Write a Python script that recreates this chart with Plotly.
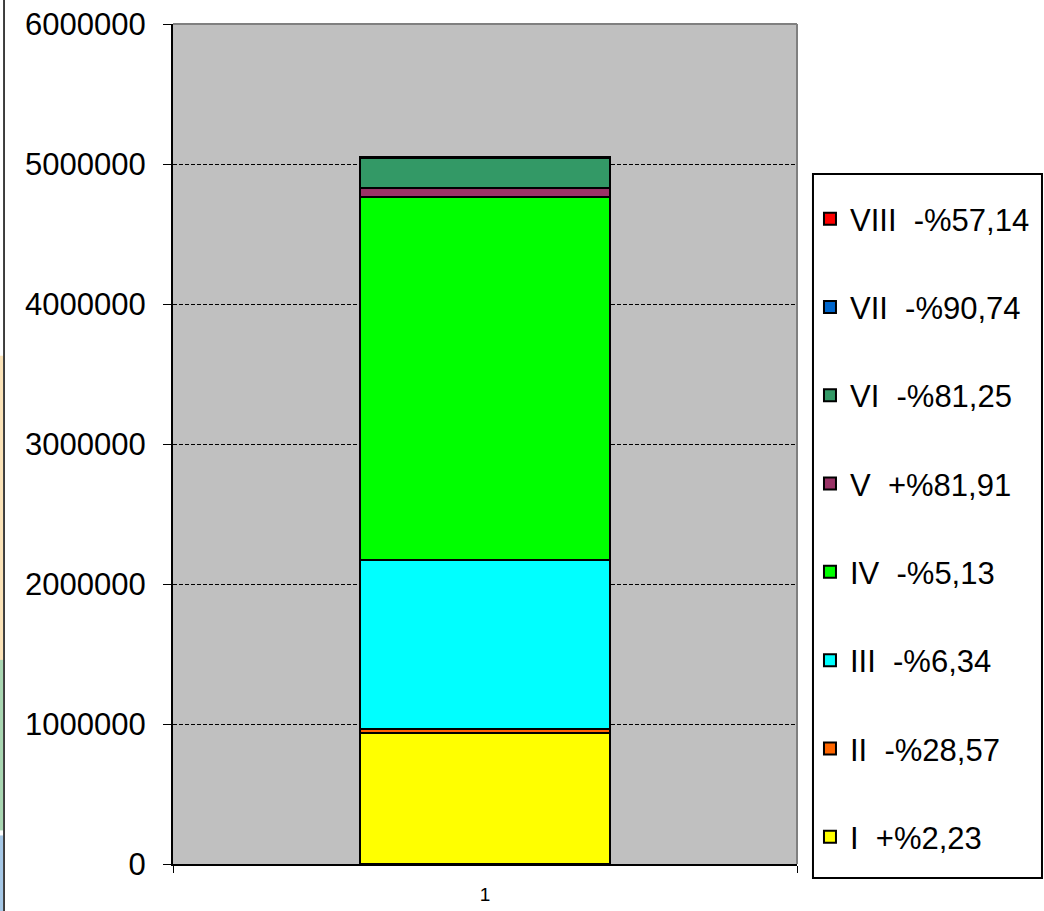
import plotly.graph_objects as go

categories = ["1"]
series_names = ["I", "II", "III", "IV", "V", "VI", "VII", "VIII"]
series_labels = ["I  +%2,23", "II  -%28,57", "III  -%6,34", "IV  -%5,13",
                 "V  +%81,91", "VI  -%81,25", "VII  -%90,74", "VIII  -%57,14"]
series_values = [935000, 30000, 1207000, 2594000, 64000, 215000, 2000, 2000]
series_colors = ["#FFFF00", "#FF6600", "#00FFFF", "#00FF00",
                 "#993366", "#339966", "#0066CC", "#FF0000"]
y_ticks = [0, 1000000, 2000000, 3000000, 4000000, 5000000, 6000000]

fig = go.Figure()
n = len(series_names)
for i, (name, label, val, col) in enumerate(zip(series_names, series_labels, series_values, series_colors)):
    fig.add_trace(go.Bar(
        x=categories, y=[val], name=label.replace(" ", "\u00a0"),
        legendgroup=name, legendrank=n - i,
        marker=dict(color=col, line=dict(color="black", width=2)),
    ))

fig.update_layout(
    width=1044, height=911,
    barmode="stack", bargap=0.6,
    paper_bgcolor="white", plot_bgcolor="#C0C0C0",
    margin=dict(l=173, r=247, t=24, b=47, autoexpand=False),
    font=dict(family="Liberation Sans, Arial, sans-serif", color="black"),
    showlegend=True,
    legend=dict(
        x=1.0208, xanchor="left", y=0.80, yanchor="top",
        traceorder="grouped", tracegroupgap=45,
        bgcolor="rgba(0,0,0,0)", borderwidth=0,
        font=dict(size=31),
    ),
)
fig.update_xaxes(
    type="category", showgrid=False,
    showline=True, linecolor="black", linewidth=2,
    ticks="outside", tickson="boundaries", ticklen=7, tickcolor="black", tickwidth=1,
    tickfont=dict(size=19), ticklabelstandoff=12,
)
fig.update_yaxes(
    range=[0, 6003000], tickvals=y_ticks,
    ticktext=[str(v) for v in y_ticks],
    showgrid=True, gridcolor="black", gridwidth=1, griddash="4px,2px",
    showline=True, linecolor="black", linewidth=2,
    ticks="outside", ticklen=8, tickcolor="black", tickwidth=1,
    tickfont=dict(size=31), ticklabelstandoff=11, zeroline=False,
)
# plot area frame (top/right in gray)
fig.add_shape(type="line", xref="paper", yref="paper", x0=0, x1=1, y0=1, y1=1,
              line=dict(color="#808080", width=2))
fig.add_shape(type="line", xref="paper", yref="paper", x0=1, x1=1, y0=0, y1=1,
              line=dict(color="#808080", width=2))
# legend frame
fig.add_shape(type="rect", xref="paper", yref="paper",
              x0=1.0256, x1=1.3926, y0=-0.0167, y1=0.8214,
              fillcolor="white", line=dict(color="black", width=2), layer="below")
# left edge artefacts of the source image
for y0, y1, c in [(0.0405, 0.605, "#FBE3B8"), (-0.0595, 0.0405, "#A9D6B2"), (-0.056, -0.0595, "#A6C8E6")]:
    pass
fig.add_shape(type="rect", xref="paper", yref="paper", x0=-0.2772, x1=-0.2724,
              y0=0.243, y1=0.605, fillcolor="#FBE3B8", line=dict(width=0))
fig.add_shape(type="rect", xref="paper", yref="paper", x0=-0.2772, x1=-0.2724,
              y0=0.04, y1=0.243, fillcolor="#A9D6B2", line=dict(width=0))
fig.add_shape(type="rect", xref="paper", yref="paper", x0=-0.2772, x1=-0.2724,
              y0=-0.06, y1=0.034, fillcolor="#A6C8E6", line=dict(width=0))
fig.add_shape(type="line", xref="paper", yref="paper", x0=-0.2708, x1=-0.2708,
              y0=-0.06, y1=1.03, line=dict(color="black", width=1.5))
fig.write_html("out.html", config={"displayModeBar": False},
               post_script="document.body.style.margin='0px';")
